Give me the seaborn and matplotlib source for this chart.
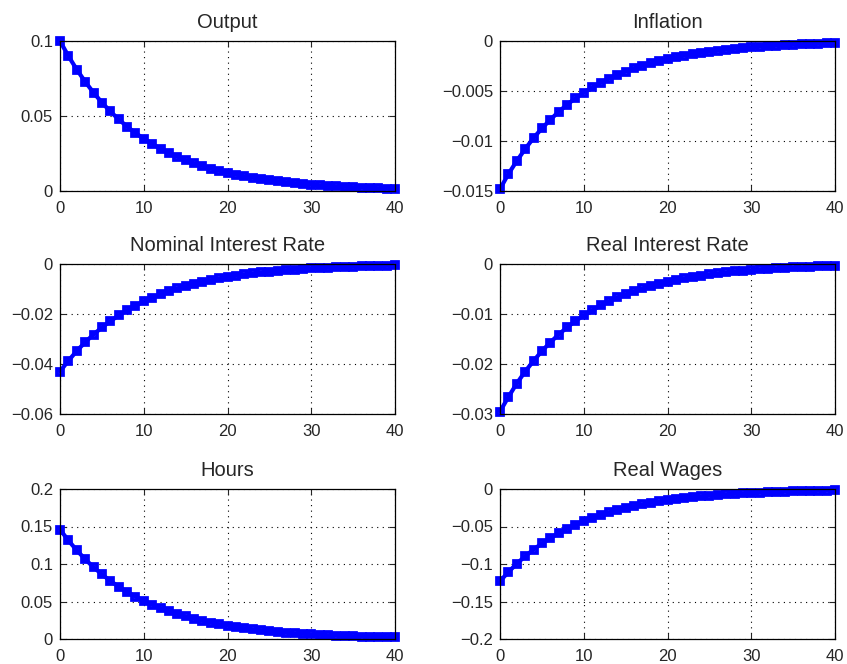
import numpy as np
import pandas as pd
import matplotlib
matplotlib.use("Agg")
import matplotlib.pyplot as plt
from matplotlib.ticker import FuncFormatter, MultipleLocator
import seaborn as sns

periods = list(range(41))
titles = ["Output", "Inflation", "Nominal Interest Rate", "Real Interest Rate", "Hours", "Real Wages"]

output = [0.1, 0.09, 0.081, 0.0729, 0.0656, 0.0590, 0.0531, 0.0478, 0.0430, 0.0387, 0.0349, 0.0314, 0.0282,
          0.0254, 0.0229, 0.0206, 0.0185, 0.0167, 0.0150, 0.0135, 0.0122, 0.0109, 0.0098, 0.0089, 0.0080, 0.0072,
          0.0065, 0.0058, 0.0052, 0.0047, 0.0042, 0.0038, 0.0034, 0.0031, 0.0028, 0.0025, 0.0023, 0.0020, 0.0018,
          0.0016, 0.0015]
inflation = [-0.0148, -0.0133, -0.0120, -0.0108, -0.0097, -0.00874, -0.00787, -0.00708, -0.00637, -0.00573,
             -0.00516, -0.00464, -0.00418, -0.00376, -0.00339, -0.00305, -0.00274, -0.00247, -0.00222, -0.00200,
             -0.00180, -0.00162, -0.00146, -0.00131, -0.00118, -0.00106, -0.00096, -0.00086, -0.00077, -0.00070,
             -0.00063, -0.00056, -0.00051, -0.00046, -0.00041, -0.00037, -0.00033, -0.00030, -0.00027, -0.00024,
             -0.00022]
nominal_rate = [-0.043, -0.0387, -0.0348, -0.0313, -0.0282, -0.0254, -0.0229, -0.0206, -0.0185, -0.0167, -0.0150,
                -0.0135, -0.0121, -0.0109, -0.0098, -0.0089, -0.0080, -0.0072, -0.0065, -0.0058, -0.0052, -0.0047,
                -0.0042, -0.0038, -0.0034, -0.0031, -0.0028, -0.0025, -0.0023, -0.0020, -0.0018, -0.0016, -0.0015,
                -0.0013, -0.0012, -0.0011, -0.0010, -0.0009, -0.0008, -0.0007, -0.0006]
real_rate = [-0.0295, -0.0266, -0.0239, -0.0215, -0.0194, -0.0174, -0.0157, -0.0141, -0.0127, -0.0114, -0.0103,
             -0.0093, -0.0083, -0.0075, -0.0067, -0.0061, -0.0055, -0.0049, -0.0044, -0.0040, -0.0036, -0.0032,
             -0.0029, -0.0026, -0.0024, -0.0021, -0.0019, -0.0017, -0.0015, -0.0014, -0.0013, -0.0011, -0.0010,
             -0.0009, -0.0008, -0.0007, -0.0007, -0.0006, -0.0005, -0.0005, -0.0004]
hours = [0.146, 0.1314, 0.1183, 0.1064, 0.0958, 0.0862, 0.0776, 0.0698, 0.0628, 0.0566, 0.0509, 0.0458, 0.0412,
         0.0371, 0.0334, 0.0301, 0.0271, 0.0243, 0.0219, 0.0197, 0.0178, 0.0160, 0.0144, 0.0129, 0.0116, 0.0105,
         0.0094, 0.0085, 0.0076, 0.0069, 0.0062, 0.0056, 0.0050, 0.0045, 0.0041, 0.0037, 0.0033, 0.0030, 0.0027,
         0.0024, 0.0022]
real_wages = [-0.123, -0.1107, -0.0996, -0.0897, -0.0807, -0.0726, -0.0654, -0.0588, -0.0529, -0.0477, -0.0429,
              -0.0386, -0.0347, -0.0313, -0.0281, -0.0253, -0.0228, -0.0205, -0.0185, -0.0166, -0.0150, -0.0135,
              -0.0121, -0.0109, -0.0098, -0.0088, -0.0079, -0.0072, -0.0064, -0.0058, -0.0052, -0.0047, -0.0042,
              -0.0038, -0.0034, -0.0031, -0.0028, -0.0025, -0.0022, -0.0020, -0.0018]

series = [output, inflation, nominal_rate, real_rate, hours, real_wages]
ylims = [(0, 0.1), (-0.015, 0), (-0.06, 0), (-0.03, 0), (0, 0.2), (-0.2, 0)]
ysteps = [0.05, 0.005, 0.02, 0.01, 0.05, 0.05]

sns.set_style("ticks")
plt.rcParams["font.family"] = ["Liberation Sans", "DejaVu Sans"]
plt.rcParams["axes.unicode_minus"] = True

fig = plt.figure(figsize=(8.47, 6.64), dpi=100)
W, H = 847, 664
lefts = [60, 500]
tops = [41, 264, 489]
aw, ah = 335, 150

fmt = FuncFormatter(lambda v, p: ("{:g}".format(round(v, 6))).replace("-", "\u2212"))

for i, (title, vals) in enumerate(zip(titles, series)):
    r, c = divmod(i, 2)
    ax = fig.add_axes([lefts[c] / W, 1 - (tops[r] + ah) / H, aw / W, ah / H])
    df = pd.DataFrame({"t": periods, "v": vals})
    sns.lineplot(data=df, x="t", y="v", ax=ax, color=(0, 0, 1), linewidth=3.0,
                 marker="s", markersize=4.8, markerfacecolor="none", markeredgecolor=(0, 0, 1),
                 markeredgewidth=2.7)
    ax.set_xlim(0, 40)
    ax.set_ylim(*ylims[i])
    ax.xaxis.set_major_locator(MultipleLocator(10))
    ax.yaxis.set_major_locator(MultipleLocator(ysteps[i]))
    ax.yaxis.set_major_formatter(fmt)
    ax.set_xlabel("")
    ax.set_ylabel("")
    ax.set_title(title, fontsize=14.5, pad=9)
    ax.grid(True, linestyle=(0, (1, 4)), color="black", linewidth=0.8)
    ax.tick_params(direction="in", labelsize=12, length=4, width=0.8, top=True, right=True,
                   labeltop=False, labelright=False)
    ax.tick_params(axis="x", pad=7)
    ax.tick_params(axis="y", pad=5)
    for s in ax.spines.values():
        s.set_visible(True)
        s.set_color("black")
        s.set_linewidth(0.9)
    for ln in ax.lines:
        ln.set_clip_on(False)

fig.savefig("out.png", dpi=100)
